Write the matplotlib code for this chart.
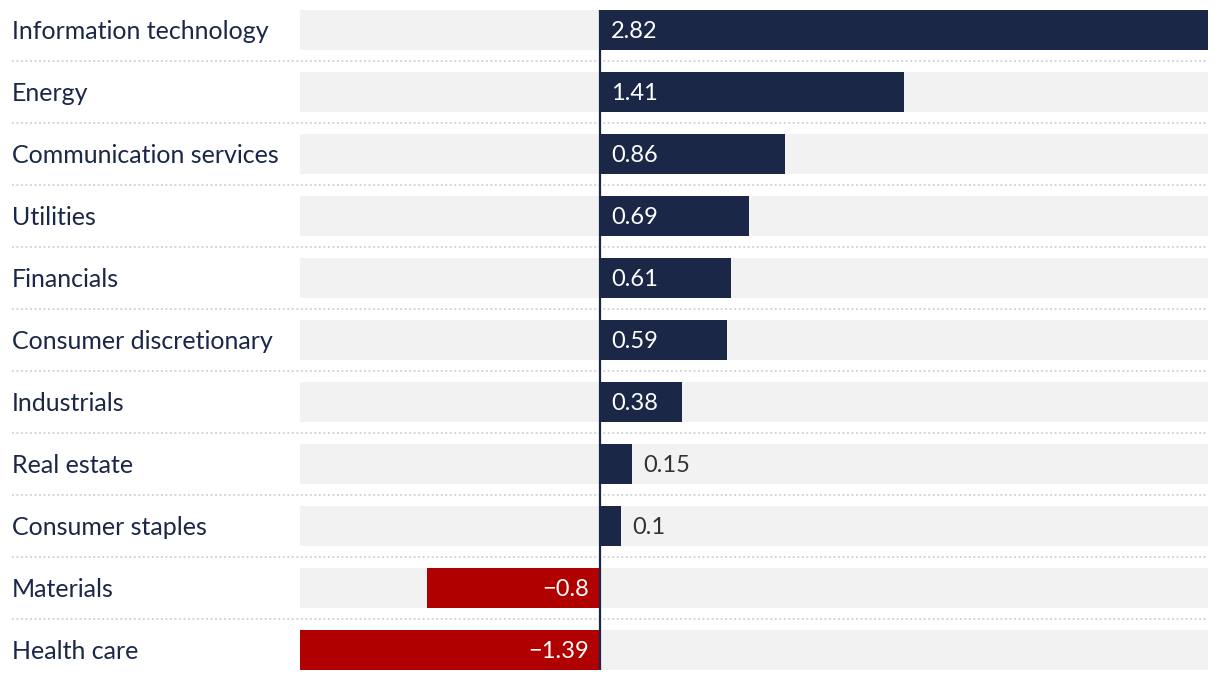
import matplotlib
matplotlib.use("Agg")
import matplotlib.pyplot as plt
import matplotlib.transforms as mtransforms

_NAVY = "#1b2747"
_RED = "#b00000"
_BG_BAR = "#f2f2f2"
_SEP = "#cfcfcf"
_OUT_TEXT = "#333333"

sectors = [
    "Information technology", "Energy", "Communication services", "Utilities",
    "Financials", "Consumer discretionary", "Industrials", "Real estate",
    "Consumer staples", "Materials", "Health care",
]
values = [2.82, 1.41, 0.86, 0.69, 0.61, 0.59, 0.38, 0.15, 0.1, -0.8, -1.39]

plt.rcParams["font.family"] = ["Lato", "DejaVu Sans"]

W, H = 1220, 680
fig = plt.figure(figsize=(W / 100, H / 100), dpi=100)
ax = fig.add_axes([300 / W, 10 / H, 908 / W, 660 / H])

n = len(sectors)
bar_h = 40 / 62
xmin, xmax = min(values), max(values)
ys = list(range(n))

# background track
ax.barh(ys, [xmax - xmin] * n, left=xmin, height=bar_h, color=_BG_BAR, zorder=1)
colors = [_NAVY if v >= 0 else _RED for v in values]
ax.barh(ys, values, height=bar_h, color=colors, zorder=2)
ax.axvline(0, color=_NAVY, linewidth=1.6, zorder=3)

ax.set_xlim(xmin, xmax)
ax.set_ylim(n - 1 + bar_h / 2, -bar_h / 2)
ax.axis("off")

dy = -1.5 / 100
off_r = mtransforms.ScaledTranslation(11 / 100, dy, fig.dpi_scale_trans)
off_l = mtransforms.ScaledTranslation(-11 / 100, dy, fig.dpi_scale_trans)
for y, v in zip(ys, values):
    if abs(v) > 0.3:
        if v > 0:
            ax.text(0, y, f"{v:g}", transform=ax.transData + off_r, ha="left", va="center",
                    color="white", fontsize=17, zorder=4)
        else:
            ax.text(0, y, f"\u2212{abs(v):g}", transform=ax.transData + off_l, ha="right",
                    va="center", color="white", fontsize=17, zorder=4)
    else:
        ax.text(v, y, f"{v:g}", transform=ax.transData + off_r, ha="left", va="center",
                color=_OUT_TEXT, fontsize=17, zorder=4)

blend = mtransforms.blended_transform_factory(fig.transFigure, ax.transData)
lab_off = mtransforms.ScaledTranslation(0, dy, fig.dpi_scale_trans)
for y, name in zip(ys, sectors):
    ax.text(12 / W, y, name, transform=blend + lab_off, ha="left", va="center",
            color=_NAVY, fontsize=18)
for y in ys[:-1]:
    ax.plot([12 / W, 1208 / W], [y + 0.5, y + 0.5], transform=blend, clip_on=False,
            color=_SEP, linewidth=1.3, linestyle=(0, (1, 1.5)), zorder=0)

fig.savefig("out.png", dpi=100, facecolor="white")
